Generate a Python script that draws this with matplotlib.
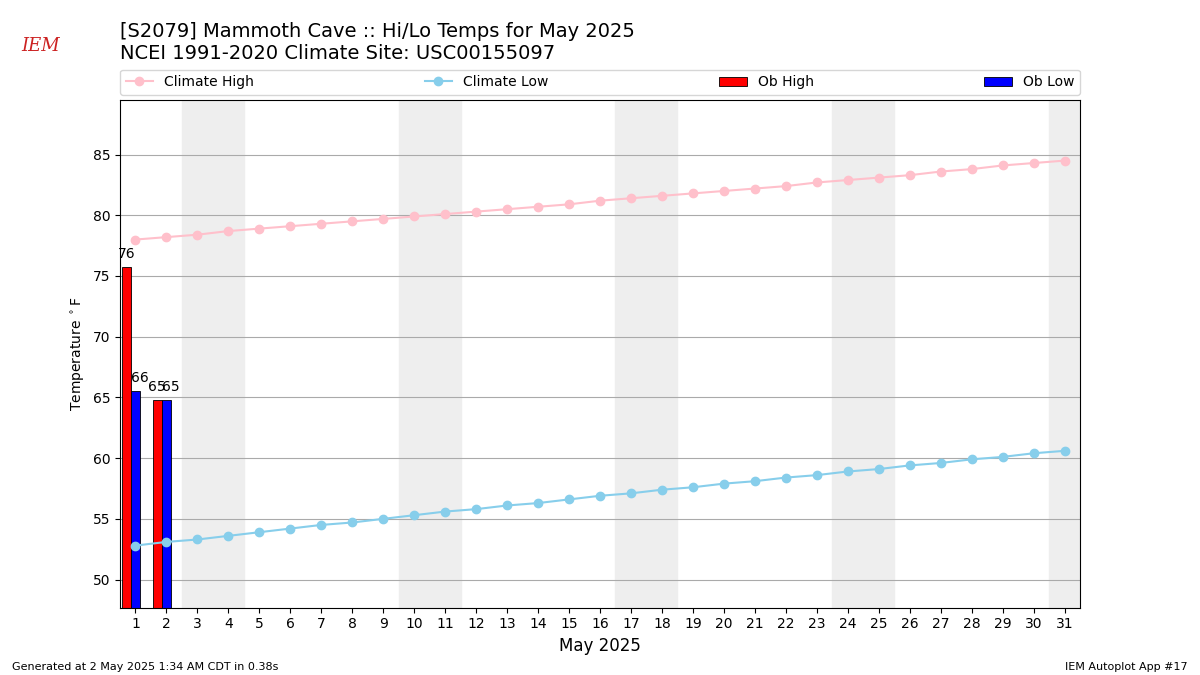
import matplotlib
matplotlib.use("Agg")
import matplotlib.pyplot as plt
from matplotlib.patches import Patch
from matplotlib.lines import Line2D
import numpy as np

days = list(range(1, 32))
climate_high = [78.0, 78.2, 78.4, 78.7, 78.9, 79.1, 79.3, 79.5, 79.7, 79.9, 80.1,
                80.3, 80.5, 80.7, 80.9, 81.2, 81.4, 81.6, 81.8, 82.0, 82.2, 82.4,
                82.7, 82.9, 83.1, 83.3, 83.6, 83.8, 84.1, 84.3, 84.5]
climate_low = [52.8, 53.1, 53.3, 53.6, 53.9, 54.2, 54.5, 54.7, 55.0, 55.3, 55.6,
               55.8, 56.1, 56.3, 56.6, 56.9, 57.1, 57.4, 57.6, 57.9, 58.1, 58.4,
               58.6, 58.9, 59.1, 59.4, 59.6, 59.9, 60.1, 60.4, 60.6]
ob_days = [1, 2]
ob_high = [75.7, 64.8]
ob_low = [65.5, 64.8]
ob_high_lbl = ["76", "65"]
ob_low_lbl = ["66", "65"]
weekends = [3, 4, 10, 11, 17, 18, 24, 25, 31]

fig = plt.figure(figsize=(12, 6.75), dpi=100)
ax = fig.add_axes([0.1, 0.1, 0.8, 0.752])

for d in weekends:
    ax.axvspan(d - 0.5, d + 0.5, color="#eeeeee", zorder=0)

w = 0.3
bh = ax.bar(np.array(ob_days) - 0.3, [h - 40 for h in ob_high], bottom=40, width=w,
            color="red", edgecolor="k", linewidth=0.6, zorder=2)
bl = ax.bar(np.array(ob_days), [l - 40 for l in ob_low], bottom=40, width=w,
            color="blue", edgecolor="k", linewidth=0.6, zorder=2)
for d, h, t in zip(ob_days, ob_high, ob_high_lbl):
    ax.text(d - 0.3, h + 0.5, t, ha="center", va="bottom", fontsize=10, zorder=5)
for d, l, t in zip(ob_days, ob_low, ob_low_lbl):
    ax.text(d + 0.15, l + 0.5, t, ha="center", va="bottom", fontsize=10, zorder=5)

ax.plot(days, climate_high, "-o", color="pink", zorder=3)
ax.plot(days, climate_low, "-o", color="skyblue", zorder=3)

ax.set_xlim(0.5, 31.5)
ax.set_ylim(47.7, 89.5)
ax.set_xticks(days)
ax.set_yticks(range(50, 90, 5))
ax.grid(axis="y", color="#aaaaaa", zorder=1)
ax.set_axisbelow(True)
ax.set_ylabel("Temperature $^\\circ$F")
ax.set_xlabel("May 2025", fontsize=12)

handles = [Line2D([], [], color="pink", marker="o"),
           Line2D([], [], color="skyblue", marker="o"),
           Patch(facecolor="red", edgecolor="k", linewidth=0.6),
           Patch(facecolor="blue", edgecolor="k", linewidth=0.6)]
ax.legend(handles, ["Climate High", "Climate Low", "Ob High", "Ob Low"], ncol=4,
          loc="lower left", bbox_to_anchor=(0, 1.01, 1, 0.05), mode="expand",
          borderaxespad=0, fontsize=10)

fig.text(0.1, 0.945, "[S2079] Mammoth Cave :: Hi/Lo Temps for May 2025", fontsize=14)
fig.text(0.1, 0.912, "NCEI 1991-2020 Climate Site: USC00155097", fontsize=14)
fig.text(0.018, 0.925, "IEM", color="#cc2222", fontsize=13, style="italic", family="serif")
fig.text(0.01, 0.008, "Generated at 2 May 2025 1:34 AM CDT in 0.38s", fontsize=8)
fig.text(0.99, 0.008, "IEM Autoplot App #17", fontsize=8, ha="right")

fig.savefig("out.png")
